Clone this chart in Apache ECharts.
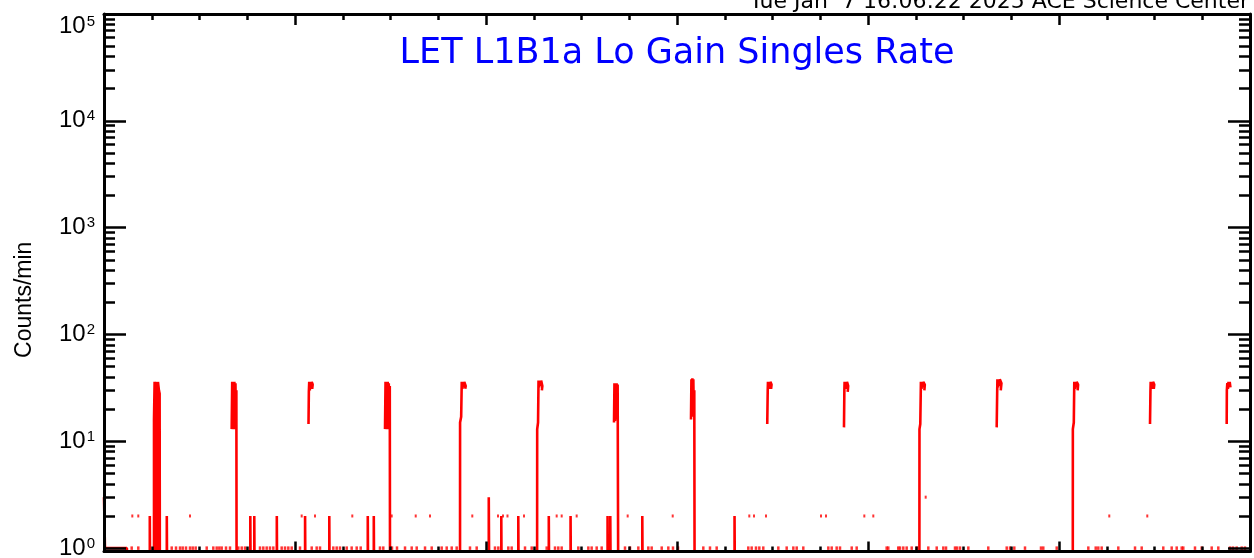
<!DOCTYPE html>
<html><head><meta charset="utf-8">
<script src="https://cdn.jsdelivr.net/npm/echarts@6/dist/echarts.min.js"></script>
<style>html,body{margin:0;padding:0;background:#fff}#c{width:1254px;height:558px}</style>
</head><body><div id="c"></div>
<script>
const titleText = 'LET L1B1a Lo Gain Singles Rate';
const stampText = 'Tue Jan  7 16:06:22 2025 ACE Science Center';
const yName = 'Counts/min';
const yMajorTicks = [1, 10, 100, 1000, 10000, 100000];
const yLabelsMid = [1, 10, 100, 1000, 10000];
const yLabelsTop = [100000];
const yMinorTicks = [2,3,4,5,6,7,8,9,20,30,40,50,60,70,80,90,200,300,400,500,600,700,800,900,
  2000,3000,4000,5000,6000,7000,8000,9000,20000,30000,40000,50000,60000,70000,80000,90000];
const xMin = 0, xMax = 24;

// isolated readings (hour of day)
const singleOnes = [0.580,0.718,1.418,1.508,1.592,1.648,1.717,1.801,1.858,1.920,2.151,2.289,2.360,2.415,2.465,2.555,2.639,2.813,2.884,2.953,3.267,3.336,3.407,3.476,3.546,3.721,3.791,3.860,3.931,4.105,4.350,4.454,4.524,4.802,4.873,4.942,5.083,5.187,5.292,5.376,5.780,5.849,6.031,6.136,6.304,6.444,6.549,6.723,6.863,7.072,7.177,7.282,7.386,7.665,7.805,8.188,8.258,8.467,8.538,8.817,8.957,9.271,9.445,9.514,9.585,9.933,10.143,10.213,10.318,10.423,10.911,11.016,11.190,11.399,11.470,11.680,11.818,11.916,12.021,12.551,12.691,12.831,13.493,13.564,13.654,13.724,13.807,14.122,14.297,14.436,14.507,14.645,15.169,15.240,15.344,15.414,15.659,15.763,16.391,16.425,16.634,16.670,16.739,16.810,16.915,17.020,17.263,17.439,17.577,17.634,17.822,17.864,17.927,18.101,18.519,18.905,18.974,19.064,19.288,19.623,19.671,19.952,20.614,20.769,20.823,20.894,21.242,21.592,21.732,22.184,22.360,22.465,22.570,22.603,22.848,22.988,23.198,23.336,23.581,23.644,23.721,23.826,23.895];
const singleTwos = [0.593,0.718,1.801,4.140,4.419,5.200,6.025,6.528,6.827,7.713,8.251,8.356,8.450,8.796,9.480,9.585,9.899,10.967,11.910,13.514,13.613,13.864,15.016,15.120,15.923,16.111,21.053,21.849];
const singleThrees = [17.208];

// short excursions from zero
const barTimes  = [0.974,1.330,3.079,3.162,3.634,4.226,4.733,5.539,5.665,8.073,8.335,8.691,9.330,9.786,10.561,10.618,11.288,13.220];
const barCounts = [2,2,2,2,2,2,2,2,2,3,2,2,2,2,2,2,2,2];

// opening run
const startRun = [[0.0,3],[0.02,1],[0.48,1],[0.49,0]];

// periodic bursts [hour, counts]
const spikes = [
  [[1.047,0],[1.047,16],[1.06,36],[1.07,34],[1.08,0],[1.09,36],[1.11,35],[1.12,0],[1.13,36],[1.15,30],[1.165,28],[1.175,0]],
  [[2.674,13],[2.685,36],[2.695,13],[2.707,36],[2.718,13],[2.73,36],[2.742,14],[2.753,35],[2.764,13],[2.772,30],[2.782,0]],
  [[4.283,14.5],[4.29,29],[4.298,36],[4.31,30],[4.322,36],[4.335,31],[4.35,36],[4.37,34],[4.36,31]],
  [[5.885,13],[5.896,36],[5.906,13],[5.918,36],[5.929,13],[5.941,36],[5.953,14],[5.964,35],[5.975,13],[5.985,33],[5.995,0]],
  [[7.455,0],[7.457,15],[7.48,17],[7.492,36],[7.505,31],[7.518,36],[7.53,32],[7.545,36],[7.575,33],[7.565,31]],
  [[9.068,0],[9.072,13],[9.09,15],[9.10,37],[9.113,32],[9.126,37],[9.14,33],[9.155,37],[9.18,33],[9.17,30]],
  [[10.681,15],[10.69,35],[10.701,15.5],[10.712,35],[10.723,16],[10.735,35],[10.746,16],[10.757,34],[10.768,35],[10.78,0]],
  [[12.293,16],[12.302,38],[12.312,17],[12.322,39],[12.332,17],[12.342,38],[12.352,18],[12.362,30],[12.375,0]],
  [[13.89,14.5],[13.90,30],[13.905,36],[13.918,31],[13.93,36],[13.943,32],[13.955,36],[13.98,34],[13.97,31]],
  [[15.497,13.5],[15.505,30],[15.51,36],[15.523,31],[15.535,36],[15.548,31],[15.56,36],[15.585,33],[15.575,29]],
  [[17.074,0],[17.078,13],[17.095,14.5],[17.108,36],[17.12,31],[17.133,36],[17.145,32],[17.158,36],[17.19,34],[17.18,30]],
  [[18.695,13.5],[18.705,28],[18.71,38],[18.723,32],[18.735,38],[18.748,33],[18.76,38],[18.795,35],[18.78,30]],
  [[20.287,0],[20.29,13],[20.31,15],[20.32,36],[20.333,31],[20.345,36],[20.358,32],[20.37,36],[20.40,34],[20.39,30]],
  [[21.906,14.5],[21.915,29],[21.92,36],[21.933,31],[21.945,36],[21.958,32],[21.97,36],[21.995,34],[21.985,31]],
  [[23.512,14.5],[23.515,30],[23.525,35],[23.538,31],[23.55,36],[23.563,32],[23.575,36],[23.60,35],[23.59,32]]
];

// zero counts cannot sit on a log axis: they are placed below the axis floor and clipped
const FLOOR = 0.01;
const lineData = [];
function addPath(pts) {
  pts.forEach(p => lineData.push([p[0], p[1] === 0 ? FLOOR : p[1]]));
  lineData.push([pts[pts.length - 1][0], '-']);
}
addPath(startRun);
barTimes.forEach((t, i) => addPath([[t - 0.015, 0], [t - 0.015, barCounts[i]], [t + 0.015, barCounts[i]], [t + 0.015, 0]]));
spikes.forEach(s => addPath(s));

const BLACK = '#000';
const xBase = {
  type: 'value', min: xMin, max: xMax, interval: 4, z: 10,
  axisLabel: { show: false }, splitLine: { show: false },
  axisLine: { show: true, onZero: false, lineStyle: { color: BLACK, width: 3 } }
};
const yBase = {
  type: 'log', logBase: 10, min: 0.93, max: 100000, z: 10,
  splitLine: { show: false }, minorTick: { show: false },
  axisLine: { show: false, onZero: false }
};
const majorTickStyle = { color: BLACK, width: 2.5 };
const labelRich = {
  b: { fontFamily: 'Liberation Sans', fontSize: 24, color: BLACK, lineHeight: 24, verticalAlign: 'bottom' },
  s: { fontFamily: 'Liberation Sans', fontSize: 15, color: BLACK, lineHeight: 15, verticalAlign: 'top', padding: [0, 0, 0, 1] }
};
const labelFmt = v => '{b|10}{s|' + Math.round(Math.log10(v)) + '}';

const chart = echarts.init(document.getElementById('c'), null, { renderer: 'canvas' });
chart.setOption({
  animation: false,
  backgroundColor: '#fff',
  grid: { left: 104, right: 4, top: 14, bottom: 6.5, containLabel: false, outerBoundsMode: 'none' },
  graphic: [
    { type: 'text', x: 677, y: 54, z: 20,
      style: { text: titleText, font: '35px "DejaVu Sans"', fill: '#0000ff', align: 'center', verticalAlign: 'middle' } },
    { type: 'text', x: 1249, y: 13, z: 20,
      style: { text: stampText, font: '22px "DejaVu Sans"', fill: BLACK, align: 'right', verticalAlign: 'bottom' } }
  ],
  xAxis: [
    Object.assign({}, xBase, { position: 'bottom',
      axisTick: { show: true, inside: true, length: 10, lineStyle: majorTickStyle },
      minorTick: { show: true, splitNumber: 4, length: 5, lineStyle: majorTickStyle } }),
    Object.assign({}, xBase, { position: 'top',
      axisTick: { show: true, inside: true, length: 11, lineStyle: majorTickStyle },
      minorTick: { show: true, splitNumber: 4, length: 6, lineStyle: majorTickStyle } })
  ],
  yAxis: [
    Object.assign({}, yBase, { position: 'left',
      axisLine: { show: true, onZero: false, lineStyle: { color: BLACK, width: 3 } },
      axisTick: { show: true, inside: true, length: 22, customValues: yMajorTicks, lineStyle: majorTickStyle },
      axisLabel: { show: true, customValues: yLabelsMid, margin: 9, verticalAlign: 'middle',
        formatter: labelFmt, rich: labelRich },
      name: yName, nameLocation: 'middle', nameGap: 68,
      nameTextStyle: { fontFamily: 'Liberation Sans', fontSize: 23, color: BLACK, padding: [0, 34, 0, 0] } }),
    Object.assign({}, yBase, { position: 'left',
      axisTick: { show: true, inside: true, length: 11, customValues: yMinorTicks, lineStyle: majorTickStyle },
      axisLabel: { show: false } }),
    Object.assign({}, yBase, { position: 'right',
      axisLine: { show: true, onZero: false, lineStyle: { color: BLACK, width: 3 } },
      axisTick: { show: true, inside: true, length: 22, customValues: yMajorTicks, lineStyle: majorTickStyle },
      axisLabel: { show: false } }),
    Object.assign({}, yBase, { position: 'right',
      axisTick: { show: true, inside: true, length: 11, customValues: yMinorTicks, lineStyle: majorTickStyle },
      axisLabel: { show: false } }),
    Object.assign({}, yBase, { position: 'left',
      axisTick: { show: false },
      axisLabel: { show: true, customValues: yLabelsTop, margin: 9, verticalAlign: 'top',
        formatter: labelFmt, rich: labelRich } })
  ],
  series: [
    { type: 'line', xAxisIndex: 0, yAxisIndex: 0, data: lineData, showSymbol: false, connectNulls: false,
      clip: true, lineStyle: { color: '#ff0000', width: 2.6 }, itemStyle: { color: '#ff0000' }, z: 2 },
    { type: 'scatter', xAxisIndex: 0, yAxisIndex: 0, data: singleOnes.map(t => [t, 1]),
      symbol: 'rect', symbolSize: [2.5, 3.5], itemStyle: { color: '#ff0000' }, z: 2 },
    { type: 'scatter', xAxisIndex: 0, yAxisIndex: 0, data: singleTwos.map(t => [t, 2]),
      symbol: 'rect', symbolSize: [2, 3], itemStyle: { color: '#ff0000' }, z: 2 },
    { type: 'scatter', xAxisIndex: 0, yAxisIndex: 0, data: singleThrees.map(t => [t, 3]),
      symbol: 'rect', symbolSize: [2, 3], itemStyle: { color: '#ff0000' }, z: 2 }
  ]
});
</script></body></html>
